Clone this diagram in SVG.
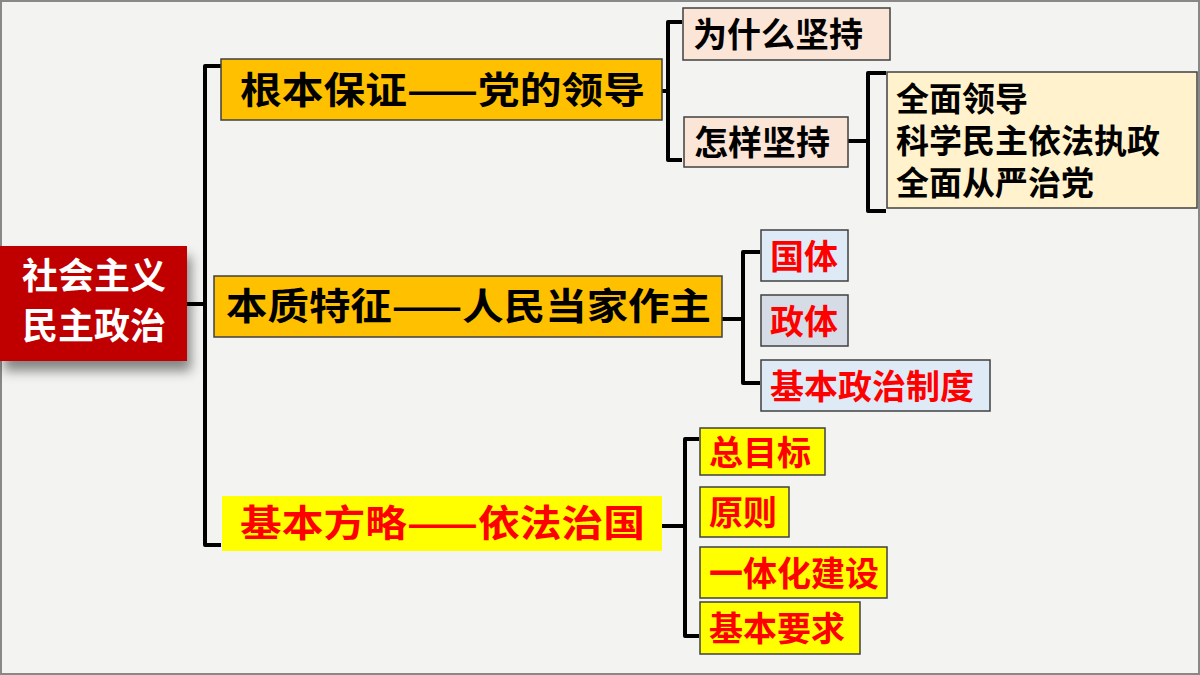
<svg xmlns="http://www.w3.org/2000/svg" width="1200" height="675" viewBox="0 0 1200 675">
<defs>
<style>
text{font-family:"Noto Sans CJK SC","Noto Sans",sans-serif;font-weight:bold;}
.b{stroke:#404040;stroke-width:1.5}
.k{fill:#000}
.r{fill:#FF0000}
.c{fill:none;stroke:#000;stroke-width:4;stroke-linejoin:round}
</style>
<filter id="sh" x="-20%" y="-20%" width="150%" height="160%"><feDropShadow dx="4" dy="10" stdDeviation="6" flood-color="#000" flood-opacity="0.45"/></filter>
</defs>
<rect x="0" y="0" width="1200" height="675" fill="#F3F3F1"/>
<rect x="1" y="1" width="1198" height="673" fill="none" stroke="#888" stroke-width="2"/>
<g id="connectors">
<path class="c" d="M221,66 H205 V545 H221 M187,304 H205"/>
<path class="c" d="M682,22 H668 V160 H682 M647,91 H668"/>
<path class="c" d="M886,73 H868 V211 H886 M848,141 H868"/>
<path class="c" d="M760,252 H743 V383 H760 M722,319 H743"/>
<path class="c" d="M699,439 H685 V636 H699 M662,526 H685"/>
</g>
<g id="root"><rect x="0" y="246" width="187" height="115" fill="#C00000" filter="url(#sh)"/>
<text x="94" y="289" font-size="36" fill="#fff" text-anchor="middle">社会主义</text>
<text x="94" y="339" font-size="36" fill="#fff" text-anchor="middle">民主政治</text></g>
<g id="n1"><rect class="b" x="221" y="59" width="441" height="61" fill="#FFC000"/><text x="240" y="104" font-size="37" class="k" textLength="405" lengthAdjust="spacingAndGlyphs">根本保证——党的领导</text></g>
<g id="n2"><rect class="b" x="214" y="276" width="508" height="61" fill="#FFC000"/><text x="226" y="320" font-size="37" class="k" textLength="485" lengthAdjust="spacingAndGlyphs">本质特征——人民当家作主</text></g>
<g id="n3"><rect x="222" y="496" width="440" height="55" fill="#FFFF00"/><text x="240" y="537" font-size="37" class="r" textLength="405" lengthAdjust="spacingAndGlyphs">基本方略——依法治国</text></g>
<g id="n11"><rect class="b" x="683" y="8" width="207" height="52" fill="#FBE5D6"/><text x="693" y="47" font-size="34" class="k">为什么坚持</text></g>
<g id="n12"><rect class="b" x="684" y="117" width="164" height="50" fill="#FBE5D6"/><text x="694" y="155" font-size="34" class="k">怎样坚持</text></g>
<g id="n121"><rect class="b" x="887" y="72" width="310" height="136" fill="#FFF2CC"/>
<text x="896" y="111" font-size="33" class="k">全面领导</text>
<text x="896" y="153" font-size="33" class="k">科学民主依法执政</text>
<text x="896" y="195" font-size="33" class="k">全面从严治党</text></g>
<g id="n21"><rect class="b" x="761" y="230" width="87" height="51" fill="#DEEBF7"/><text x="770" y="269" font-size="34" class="r">国体</text></g>
<g id="n22"><rect class="b" x="761" y="295" width="87" height="51" fill="#D6DCE5"/><text x="770" y="334" font-size="34" class="r">政体</text></g>
<g id="n23"><rect class="b" x="761" y="360" width="229" height="51" fill="#DEEBF7"/><text x="770" y="399" font-size="34" class="r">基本政治制度</text></g>
<g id="n31"><rect class="b" x="700" y="428" width="125" height="47" fill="#FFFF00"/><text x="709" y="465" font-size="34" class="r">总目标</text></g>
<g id="n32"><rect class="b" x="700" y="487" width="89" height="50" fill="#FFFF00"/><text x="709" y="525" font-size="34" class="r">原则</text></g>
<g id="n33"><rect class="b" x="700" y="547" width="187" height="51" fill="#FFFF00"/><text x="709" y="586" font-size="34" class="r">一体化建设</text></g>
<g id="n34"><rect class="b" x="700" y="602" width="160" height="52" fill="#FFFF00"/><text x="709" y="641" font-size="34" class="r">基本要求</text></g>
</svg>
